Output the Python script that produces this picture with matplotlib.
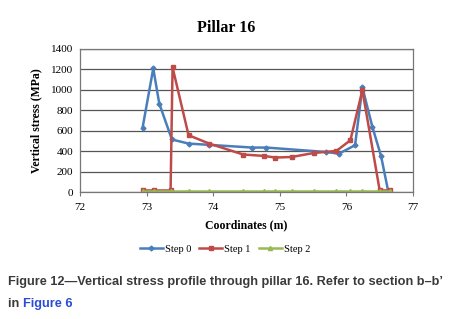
import matplotlib
matplotlib.use("Agg")
import matplotlib.pyplot as plt

# Step 0
x0 = [72.94, 73.10, 73.19, 73.38, 73.63, 73.93, 74.59, 74.80, 75.69, 75.89, 76.13, 76.24, 76.39, 76.52, 76.63]
y0 = [631, 1210, 866, 514, 474, 462, 435, 435, 392, 376, 458, 1024, 637, 353, 0]

# Step 1
x1 = [72.95, 73.11, 73.36, 73.39, 73.63, 73.94, 74.45, 74.77, 74.93, 75.18, 75.51, 75.85, 76.06, 76.24, 76.50, 76.65]
y1 = [15, 15, 15, 1220, 556, 474, 367, 353, 337, 343, 382, 402, 507, 997, 15, 15]

# Step 2
x2 = [72.95, 73.11, 73.36, 73.63, 73.94, 74.45, 74.77, 74.93, 75.18, 75.51, 75.85, 76.06, 76.24, 76.50, 76.65]
y2 = [12] * len(x2)

xticks = [72, 73, 74, 75, 76, 77]
yticks = [0, 200, 400, 600, 800, 1000, 1200, 1400]

serif = ["Liberation Serif", "DejaVu Serif"]
sans = ["Liberation Sans", "DejaVu Sans"]

fig = plt.figure(figsize=(4.52, 3.19), dpi=100)
ax = fig.add_axes([80/452, 1-192/319, 333/452, 143/319])

ax.plot(x0, y0, color="#4a7ebb", lw=1.8, marker="D", ms=2.5, label="Step 0")
ax.plot(x1, y1, color="#be4b48", lw=1.8, marker="s", ms=3.5, label="Step 1")
ax.plot(x2, y2, color="#98b954", lw=1.8, marker="^", ms=3, label="Step 2")

ax.set_xlim(72, 77)
ax.set_ylim(0, 1400)
ax.set_xticks(xticks)
ax.set_yticks(yticks)
ax.yaxis.grid(True, color="#555555", lw=0.9)
ax.set_axisbelow(True)
for s in ax.spines.values():
    s.set_color("#777777")
    s.set_linewidth(0.9)
ax.tick_params(axis="y", length=0, pad=5)
ax.tick_params(axis="x", length=3, direction="out", color="#777777", pad=5)
for lab in ax.get_xticklabels() + ax.get_yticklabels():
    lab.set_family(serif)
    lab.set_fontsize(8)

ax.set_xlabel("Coordinates (m)", family=serif, fontsize=8.5, fontweight="bold", labelpad=5)
ax.set_ylabel("Vertical stress (MPa)", family=serif, fontsize=8.5, fontweight="bold", labelpad=6)

fig.text(0.5, 1-28/319, "Pillar 16", family=serif, fontsize=11.5, fontweight="bold",
         ha="center", va="center")

fig.legend(loc="center", bbox_to_anchor=(225/452, 1-249/319), ncol=3, frameon=False,
           prop={"family": serif, "size": 7.5}, handlelength=2.2, handletextpad=0.2,
           columnspacing=0.8)

fig.text(8/452, 1-282/319, "Figure 12\u2014Vertical stress profile through pillar 16. Refer to section b\u2013b\u2019",
         family=sans, fontsize=9.2, fontweight="bold", color="#3a3a3a", va="center")
fig.text(8/452, 1-304/319, "in ", family=sans, fontsize=9.2, fontweight="bold",
         color="#3a3a3a", va="center")
fig.text(23/452, 1-304/319, "Figure 6", family=sans, fontsize=9.2, fontweight="bold",
         color="#2a4bd7", va="center")

fig.savefig("out.png", dpi=100)
